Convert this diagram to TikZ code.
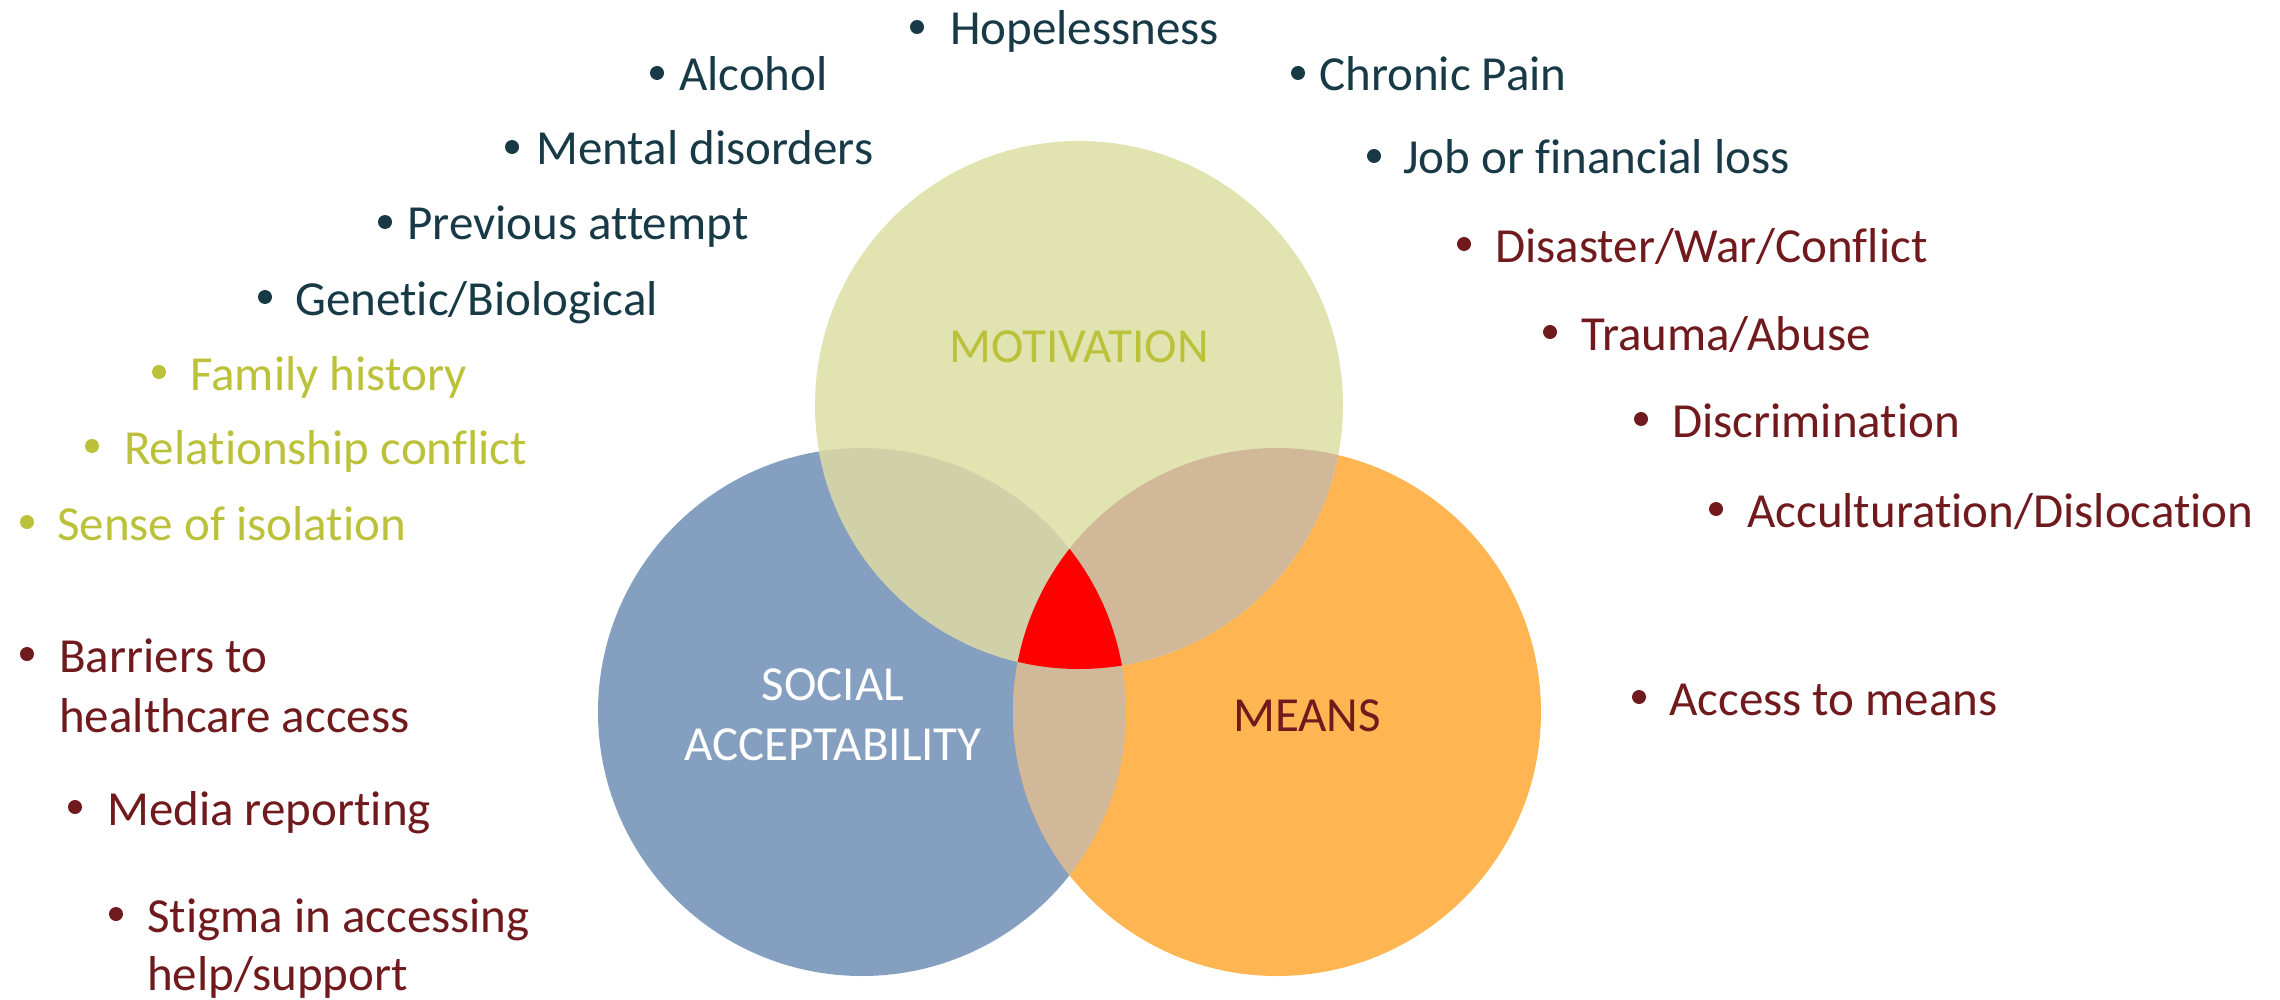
\documentclass[tikz,border=0pt]{standalone}
\usepackage{fontspec}
\setmainfont[Ligatures=NoCommon]{Carlito}
\begin{document}
\definecolor{motfill}{HTML}{E1E4B0}
\definecolor{socfill}{HTML}{849FC0}
\definecolor{meafill}{HTML}{FFB652}
\definecolor{msfill}{HTML}{D1D1A9}
\definecolor{mnfill}{HTML}{D1B899}
\definecolor{corefill}{HTML}{FF0000}
\definecolor{teal}{HTML}{173A46}
\definecolor{olive}{HTML}{BCC13A}
\definecolor{wine}{HTML}{701A1E}
\begin{tikzpicture}[x=1pt,y=-1pt,
  item/.style={anchor=base west,inner sep=0pt,font=\fontsize{49}{60}\selectfont},
  dot/.style={circle,inner sep=0pt,minimum size=14pt},
  label/.style={anchor=base,inner sep=0pt,font=\fontsize{49}{60}\selectfont}]
\useasboundingbox (0,0) rectangle (2280,1000);
\def\R{264pt}
\coordinate (mc) at (1079,405);
\coordinate (sc) at (862,712);
\coordinate (nc) at (1277,712);

% the three circles
\fill[socfill] (sc) circle[radius=\R];
\fill[meafill] (nc) circle[radius=\R];
\fill[motfill] (mc) circle[radius=\R];
% pairwise overlaps
\begin{scope}
  \clip (sc) circle[radius=\R];
  \fill[msfill] (mc) circle[radius=\R];
\end{scope}
\begin{scope}
  \clip (nc) circle[radius=\R];
  \fill[mnfill] (mc) circle[radius=\R];
\end{scope}
\begin{scope}
  \clip (sc) circle[radius=\R];
  \fill[mnfill] (nc) circle[radius=\R];
\end{scope}
% common core
\begin{scope}
  \clip (sc) circle[radius=\R];
  \clip (nc) circle[radius=\R];
  \fill[corefill] (mc) circle[radius=\R];
\end{scope}

% circle labels
\node[label,text=olive] (lmot) at (1079,362) {MOTIVATION};
\node[label,text=white] (lsoc1) at (833,700) {SOCIAL};
\node[label,text=white] (lsoc2) at (833,760) {ACCEPTABILITY};
\node[label,text=wine] (lmea) at (1307,731) {MEANS};

% motivation factors (dark)
\node[dot,fill=teal] (b1) at (917,27) {};
\node[item,text=teal] (t1) at (950,45) {Hopelessness};
\node[dot,fill=teal] (b2) at (657,73) {};
\node[item,text=teal] (t2) at (679,91) {Alcohol};
\node[dot,fill=teal] (b3) at (512,147) {};
\node[item,text=teal] (t3) at (536,165) {Mental disorders};
\node[dot,fill=teal] (b4) at (385,222) {};
\node[item,text=teal] (t4) at (407,240) {Previous attempt};
\node[dot,fill=teal] (b5) at (265,297) {};
\node[item,text=teal] (t5) at (295,315) {Genetic/Biological};
\node[dot,fill=teal] (b6) at (1298,73) {};
\node[item,text=teal] (t6) at (1319,91) {Chronic Pain};
\node[dot,fill=teal] (b7) at (1374,156) {};
\node[item,text=teal] (t7) at (1403,174) {Job or financial loss};

% motivation factors (olive)
\node[dot,fill=olive] (b8) at (159,372) {};
\node[item,text=olive] (t8) at (190,390) {Family history};
\node[dot,fill=olive] (b9) at (92,446) {};
\node[item,text=olive] (t9) at (124,464) {Relationship conflict};
\node[dot,fill=olive] (b10) at (27,522) {};
\node[item,text=olive] (t10) at (57,540) {Sense of isolation};

% right-hand factors
\node[dot,fill=wine] (b11) at (1464,244) {};
\node[item,text=wine] (t11) at (1495,262) {Disaster/War/Conflict};
\node[dot,fill=wine] (b12) at (1550,332) {};
\node[item,text=wine] (t12) at (1581,350) {Trauma/Abuse};
\node[dot,fill=wine] (b13) at (1641,419) {};
\node[item,text=wine] (t13) at (1672,437) {Discrimination};
\node[dot,fill=wine] (b14) at (1716,509) {};
\node[item,text=wine] (t14) at (1747,527) {Acculturation/Dislocation};
\node[dot,fill=wine] (b15) at (1639,697) {};
\node[item,text=wine] (t15) at (1669,715) {Access to means};

% social acceptability factors
\node[dot,fill=wine] (b16) at (27,654) {};
\node[item,text=wine] (t16a) at (59,672) {Barriers to};
\node[item,text=wine] (t16b) at (59,732) {healthcare access};
\node[dot,fill=wine] (b17) at (75,807) {};
\node[item,text=wine] (t17) at (107,825) {Media reporting};
\node[dot,fill=wine] (b18) at (116,914) {};
\node[item,text=wine] (t18a) at (147,932) {Stigma in accessing};
\node[item,text=wine] (t18b) at (147,990) {help/support};
\end{tikzpicture}
\end{document}
